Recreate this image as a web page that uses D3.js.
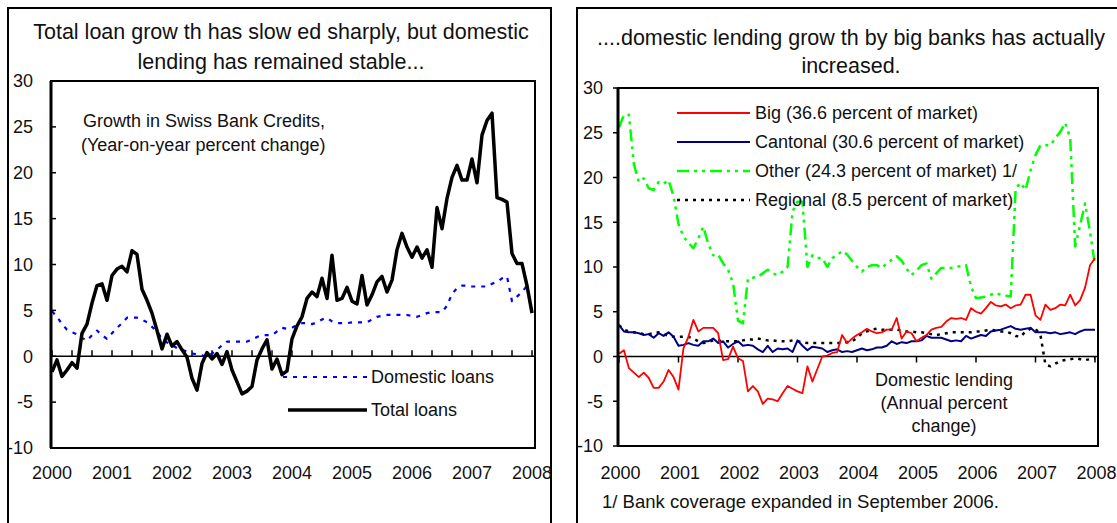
<!DOCTYPE html>
<meta charset="utf-8">
<style>
  html, body { margin: 0; padding: 0; background: #fff; }
  svg { display: block; font-family: Arial, "Liberation Sans", sans-serif; }
  .frame { fill: none; stroke: #000; stroke-width: 2; }
  .plotbox { fill: none; stroke: #000; stroke-width: 2; }
  .zero { stroke: #000; stroke-width: 1.5; }
  .tick { stroke: #000; stroke-width: 1.5; }
  .lab { font-size: 18px; fill: #111; }
  .title { font-size: 21.5px; fill: #111; text-anchor: middle; }
  .note { font-size: 18px; fill: #111; }
  .foot { font-size: 18.5px; fill: #111; }
</style>
<svg id="chart" width="1117" height="523"></svg>
<script src="https://cdnjs.cloudflare.com/ajax/libs/d3/7.8.5/d3.min.js"></script>
<script>
// monthly, Jan 2000 .. Jan 2008
var yearLabels = ["2000","2001","2002","2003","2004","2005","2006","2007","2008"];
var yTicks = [30, 25, 20, 15, 10, 5, 0, -5, -10];

var totalLoans = [-1.7,-0.4,-2.2,-1.5,-0.7,-1.3,2.5,3.5,5.8,7.7,7.9,6.1,
  8.8,9.5,9.8,9.2,11.5,11.1,7.3,6.1,4.7,2.8,0.8,2.4,
  1.1,1.6,0.7,-0.1,-2.4,-3.7,-0.8,0.4,-0.3,0.3,-0.9,0.5,
  -1.5,-2.8,-4.1,-3.8,-3.3,-0.4,0.8,1.8,-1.4,-0.3,-2.0,-1.6,
  1.9,3.3,4.3,6.3,7.0,6.5,8.5,6.3,11.0,6.1,6.3,7.5,
  6.0,5.7,8.8,5.6,6.7,8.1,8.7,7.0,8.3,11.6,13.4,11.9,
  10.8,11.9,10.7,11.6,9.7,16.2,13.9,17.2,19.5,20.8,19.2,19.2,
  21.5,18.9,24.1,25.7,26.5,17.3,17.1,16.8,11.2,10.1,10.1,7.7,
  4.7];

var domesticLoans = [4.9,4.3,3.5,2.9,2.6,2.4,2.0,1.7,2.3,2.8,2.3,1.9,
  2.5,3.1,3.6,4.2,4.2,4.2,4.0,3.7,3.2,2.7,1.9,1.5,
  1.2,0.9,0.7,0.5,0.3,0.2,0.1,-0.1,0.3,0.7,1.2,1.6,
  1.6,1.6,1.6,1.6,1.8,2.1,2.3,2.3,2.3,2.7,3.1,3.0,
  3.1,3.4,3.6,3.6,3.5,3.7,4.0,4.2,3.8,3.6,3.6,3.6,
  3.7,3.7,3.7,3.7,4.0,4.3,4.4,4.5,4.5,4.5,4.5,4.5,
  4.4,4.3,4.5,4.7,4.8,4.8,4.8,5.5,6.8,7.4,7.7,7.7,
  7.6,7.6,7.6,7.6,7.9,8.1,8.5,8.7,6.0,6.5,7.0,7.7];

var big = [0.3,0.7,-1.3,-1.8,-2.3,-1.8,-2.4,-3.5,-3.5,-2.8,-1.5,-2.3,
  -3.7,0.9,2.2,4.1,2.8,3.2,3.2,3.2,2.6,-0.4,-0.3,1.1,
  -0.2,-0.5,-3.9,-3.3,-3.9,-5.3,-4.7,-4.8,-5.0,-4.1,-3.3,-3.6,
  -3.9,-4.1,-1.1,-2.8,-1.4,0.0,0.1,0.4,0.5,2.4,1.5,2.0,
  2.4,2.7,3.1,2.8,2.6,2.7,3.0,3.0,4.3,2.0,2.8,2.6,
  1.7,2.1,2.4,3.0,3.2,3.3,3.9,4.3,4.2,4.3,4.1,5.4,
  5.0,4.8,5.4,6.1,5.7,5.6,5.8,5.4,5.7,5.8,6.9,6.9,
  4.6,4.1,5.8,5.2,5.4,5.8,5.7,6.9,5.7,6.3,7.7,10.2,
  11.0];

var cantonal = [3.5,2.8,2.7,2.7,2.6,2.4,2.5,2.1,2.6,2.3,2.7,2.2,
  1.2,1.3,1.5,1.3,1.2,1.7,1.7,2.0,1.5,1.7,1.0,1.4,
  1.7,1.2,1.3,1.2,0.8,0.5,1.2,0.5,0.9,0.8,0.9,0.5,
  1.8,1.2,0.7,1.1,1.0,0.9,0.5,0.7,0.8,0.5,0.6,0.5,
  0.7,0.9,0.7,0.8,1.0,1.0,1.2,1.7,1.4,1.6,1.5,1.7,
  1.7,1.8,2.3,2.1,2.1,2.1,1.9,1.7,1.8,1.7,2.3,2.0,
  2.2,2.4,2.3,2.8,2.9,3.0,3.2,3.4,3.1,3.0,3.1,3.2,
  2.7,2.7,2.7,2.6,2.7,2.5,2.6,2.7,2.5,2.8,3.0,3.0,
  3.0];

var other = [25.6,27.0,27.0,21.5,19.5,19.9,18.8,18.6,19.5,19.3,19.7,17.9,
  14.8,13.4,12.7,12.1,13.2,14.5,12.6,11.3,11.4,10.4,9.7,8.2,
  4.0,3.7,8.7,8.8,8.9,9.3,9.7,9.3,9.1,9.5,10.0,16.2,
  17.3,17.3,10.0,11.3,11.0,11.0,10.0,11.0,11.3,11.8,11.4,10.7,
  10.0,9.5,10.0,10.2,10.2,9.9,10.4,10.8,11.2,10.7,9.8,9.1,
  9.6,10.2,10.4,8.7,9.3,9.9,9.9,9.9,10.0,10.1,10.2,7.8,
  6.5,6.6,6.7,6.9,7.1,6.9,6.8,6.7,18.8,19.4,18.6,20.8,
  22.5,23.6,23.6,23.6,24.4,25.1,26.1,24.4,12.3,14.7,17.1,13.9,
  10.2];

var regional = [3.5,3.0,2.8,2.7,2.6,2.5,2.5,2.6,2.7,2.5,2.3,2.2,
  2.2,2.2,2.2,2.0,1.7,1.5,1.6,1.8,1.8,1.7,1.7,1.7,
  1.7,1.8,1.9,1.9,2.0,1.9,1.8,1.8,1.7,1.7,1.7,1.8,
  1.7,1.6,1.5,1.5,1.5,1.5,1.5,1.5,1.5,1.5,1.6,1.7,
  2.1,2.6,2.8,3.0,3.1,3.0,3.0,3.0,3.0,2.9,2.8,2.8,
  2.7,2.7,2.6,2.5,2.4,2.5,2.6,2.7,2.7,2.7,2.7,2.7,
  2.8,2.8,2.9,3.0,2.9,2.8,2.8,2.6,2.3,2.2,2.8,3.1,
  3.1,2.4,-0.9,-1.1,-0.8,-0.5,-0.4,-0.3,-0.2,-0.3,-0.4,-0.3,
  -0.2];

var svg = d3.select("#chart");

// outer frames
svg.append("rect").attr("class", "frame").attr("x", 8).attr("y", 8).attr("width", 543).attr("height", 530);
svg.append("rect").attr("class", "frame").attr("x", 577).attr("y", 8).attr("width", 560).attr("height", 530);

function panel(o) {
  var g = svg.append("g");
  var x = d3.scaleLinear().domain([0, 96]).range([o.x0, o.x1]);
  var y = d3.scaleLinear().domain([-10, 30]).range([o.bottom, o.top]);

  g.append("rect").attr("class", "plotbox")
    .attr("x", o.left).attr("y", o.top)
    .attr("width", o.right - o.left).attr("height", o.bottom - o.top);

  // y ticks + labels
  yTicks.forEach(function(t) {
    g.append("line").attr("class", "tick")
      .attr("x1", o.left).attr("x2", o.left + o.ytick)
      .attr("y1", y(t)).attr("y2", y(t));
    g.append("text").attr("class", "lab")
      .attr("x", o.ylabX).attr("y", y(t)).attr("dy", "0.35em")
      .attr("text-anchor", "end").text(t);
  });

  // zero line
  g.append("line").attr("class", "zero")
    .attr("x1", o.left).attr("x2", o.right)
    .attr("y1", y(0)).attr("y2", y(0));

  // x ticks on zero line
  d3.range(0, 97, o.xstep).forEach(function(m) {
    g.append("line").attr("class", "tick")
      .attr("x1", x(m)).attr("x2", x(m))
      .attr("y1", y(0)).attr("y2", y(0) + o.xtick);
  });

  yearLabels.forEach(function(l, i) {
    g.append("text").attr("class", "lab")
      .attr("x", x(i * 12) + o.labShift).attr("y", 473).attr("dy", "0.35em")
      .attr("text-anchor", "middle").text(l);
  });

  return {g: g, x: x, y: y};
}

var L = panel({left: 51, right: 535, top: 81, bottom: 448, x0: 52, x1: 532,
  ytick: 5, xtick: -6, xstep: 4, ylabX: 33, labShift: 0});
var R = panel({left: 618, right: 1098, top: 88, bottom: 446, x0: 619, x1: 1095,
  ytick: -5, xtick: 6, xstep: 12, ylabX: 603, labShift: 1.5});

// thicker left axes
svg.append("line").attr("x1", 51).attr("x2", 51).attr("y1", 81).attr("y2", 448).attr("stroke", "#000").attr("stroke-width", 3);
svg.append("line").attr("x1", 618).attr("x2", 618).attr("y1", 88).attr("y2", 446).attr("stroke", "#000").attr("stroke-width", 3);

function draw(p, vals, color, width, dash) {
  var line = d3.line().x(function(d, i) { return p.x(i); }).y(function(d) { return p.y(d); });
  var path = p.g.append("path").datum(vals)
    .attr("fill", "none").attr("stroke", color).attr("stroke-width", width)
    .attr("stroke-linejoin", "round")
    .attr("d", line);
  if (dash) path.attr("stroke-dasharray", dash);
}

draw(L, domesticLoans, "#0000ff", 2.2, "4,6");
draw(L, totalLoans, "#000", 3.5);

draw(R, regional, "#000", 2.5, "3,5");
draw(R, other, "#00ff00", 2.5, "12,5,3,5,3,5");
draw(R, cantonal, "#000080", 2);
draw(R, big, "#ff0000", 1.8);

// titles
var t1 = svg.append("text").attr("class", "title");
t1.append("tspan").attr("x", 281).attr("y", 38.5).text("Total loan grow th has slow ed sharply, but domestic");
t1.append("tspan").attr("x", 281).attr("y", 68.5).text("lending has remained stable...");
var t2 = svg.append("text").attr("class", "title");
t2.append("tspan").attr("x", 851).attr("y", 44.5).text("....domestic lending grow th by big banks has actually");
t2.append("tspan").attr("x", 851).attr("y", 72.5).text("increased.");

// left annotations
svg.append("text").attr("class", "note").attr("x", 83).attr("y", 121).attr("dy", "0.35em").text("Growth in Swiss Bank Credits,");
svg.append("text").attr("class", "note").attr("x", 81).attr("y", 145).attr("dy", "0.35em").text("(Year-on-year percent change)");

// left legend
var legL = [
  {label: "Domestic loans", color: "#0000ff", w: 2.2, dash: "4,6", x0: 283, y: 377},
  {label: "Total loans", color: "#000", w: 3.5, dash: null, x0: 288, y: 410}
];
legL.forEach(function(d) {
  var ln = svg.append("line").attr("x1", d.x0).attr("x2", 367).attr("y1", d.y).attr("y2", d.y)
    .attr("stroke", d.color).attr("stroke-width", d.w);
  if (d.dash) ln.attr("stroke-dasharray", d.dash);
  svg.append("text").attr("class", "note").attr("x", 371).attr("y", d.y).attr("dy", "0.35em").text(d.label);
});

// right legend
var legR = [
  {label: "Big (36.6 percent of market)", color: "#ff0000", w: 1.8, dash: null, y: 113},
  {label: "Cantonal (30.6 percent of market)", color: "#000080", w: 2, dash: null, y: 142},
  {label: "Other (24.3 percent of market) 1/", color: "#00ff00", w: 2.5, dash: "12,5,3,5,3,5", y: 171},
  {label: "Regional (8.5 percent of market)", color: "#000", w: 2.5, dash: "3,5", y: 200}
];
legR.forEach(function(d) {
  var ln = svg.append("line").attr("x1", 677).attr("x2", 750).attr("y1", d.y).attr("y2", d.y)
    .attr("stroke", d.color).attr("stroke-width", d.w);
  if (d.dash) ln.attr("stroke-dasharray", d.dash);
  svg.append("text").attr("class", "note").attr("x", 755).attr("y", d.y).attr("dy", "0.35em").text(d.label);
});

// right annotation
var ann = svg.append("text").attr("class", "note").attr("text-anchor", "middle");
["Domestic lending", "(Annual percent", "change)"].forEach(function(s, i) {
  ann.append("tspan").attr("x", 944).attr("y", 386 + i * 23).text(s);
});

svg.append("text").attr("class", "foot").attr("x", 602).attr("y", 502).attr("dy", "0.35em")
  .text("1/ Bank coverage expanded in September 2006.");
</script>
